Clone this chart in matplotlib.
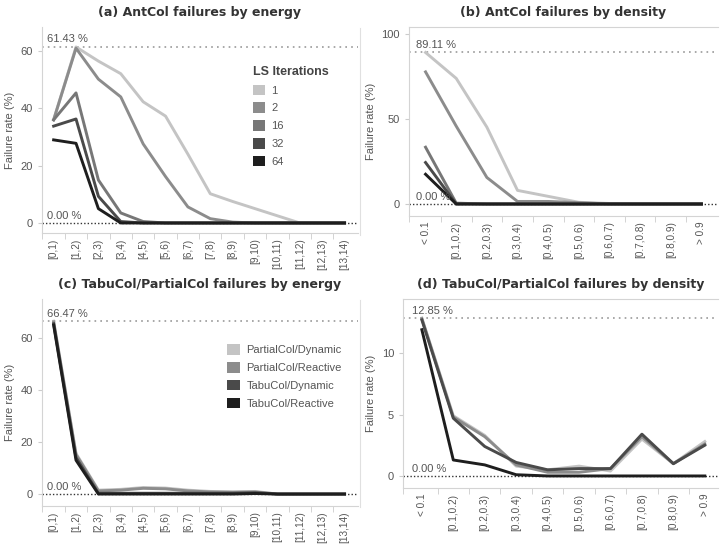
import matplotlib
matplotlib.use("Agg")
import matplotlib.pyplot as plt
from matplotlib.lines import Line2D
from matplotlib.patches import Patch

# ---- data ----
energy_bins = ["[0,1)", "[1,2)", "[2,3)", "[3,4)", "[4,5)", "[5,6)", "[6,7)",
               "[7,8)", "[8,9)", "[9,10)", "[10,11)", "[11,12)", "[12,13)", "[13,14)"]
density_bins = ["< 0.1", "[0.1,0.2)", "[0.2,0.3)", "[0.3,0.4)", "[0.4,0.5)",
                "[0.5,0.6)", "[0.6,0.7)", "[0.7,0.8)", "[0.8,0.9)", "> 0.9"]

ls_iters = ["1", "2", "16", "32", "64"]
ls_colors = ["#c4c4c4", "#8c8c8c", "#777777", "#4a4a4a", "#1e1e1e"]

ant_energy = {
    "1":  [36.0, 61.43, 56.5, 52.1, 42.3, 37.3, 24.0, 10.2, 7.5, 5.0, 2.5, 0.0, 0.0, 0.0],
    "2":  [36.0, 61.0, 50.2, 44.0, 27.6, 16.2, 5.6, 1.5, 0.3, 0.0, 0.0, 0.0, 0.0, 0.0],
    "16": [36.0, 45.4, 15.0, 3.5, 0.5, 0.0, 0.0, 0.0, 0.0, 0.0, 0.0, 0.0, 0.0, 0.0],
    "32": [33.8, 36.3, 9.3, 0.5, 0.0, 0.0, 0.0, 0.0, 0.0, 0.0, 0.0, 0.0, 0.0, 0.0],
    "64": [29.0, 27.8, 5.0, 0.0, 0.0, 0.0, 0.0, 0.0, 0.0, 0.0, 0.0, 0.0, 0.0, 0.0],
}
ant_density = {
    "1":  [89.11, 73.9, 45.2, 8.0, 4.5, 1.0, 0.3, 0.0, 0.0, 0.0],
    "2":  [77.7, 45.8, 15.6, 1.5, 1.5, 0.8, 0.0, 0.0, 0.0, 0.0],
    "16": [33.4, 0.5, 0.0, 0.0, 0.0, 0.0, 0.0, 0.0, 0.0, 0.0],
    "32": [24.4, 0.0, 0.0, 0.0, 0.0, 0.0, 0.0, 0.0, 0.0, 0.0],
    "64": [17.5, 0.0, 0.0, 0.0, 0.0, 0.0, 0.0, 0.0, 0.0, 0.0],
}

algos = ["PartialCol/Dynamic", "PartialCol/Reactive", "TabuCol/Dynamic", "TabuCol/Reactive"]
algo_colors = ["#c4c4c4", "#8c8c8c", "#4a4a4a", "#1e1e1e"]

tabu_energy = {
    "PartialCol/Dynamic":  [66.47, 15.6, 1.5, 1.8, 2.5, 2.3, 1.5, 1.0, 0.8, 1.0, 0.0, 0.0, 0.0, 0.0],
    "PartialCol/Reactive": [66.2, 15.2, 1.2, 1.5, 2.2, 2.0, 1.2, 0.8, 0.7, 0.8, 0.0, 0.0, 0.0, 0.0],
    "TabuCol/Dynamic":     [65.5, 14.0, 0.3, 0.3, 0.3, 0.3, 0.3, 0.3, 0.3, 0.5, 0.0, 0.0, 0.0, 0.0],
    "TabuCol/Reactive":    [65.0, 13.0, 0.0, 0.0, 0.0, 0.0, 0.0, 0.0, 0.0, 0.2, 0.0, 0.0, 0.0, 0.0],
}
tabu_density = {
    "PartialCol/Dynamic":  [12.85, 4.9, 3.3, 0.8, 0.5, 0.8, 0.4, 3.0, 1.0, 2.8],
    "PartialCol/Reactive": [12.8, 4.8, 3.2, 0.9, 0.3, 0.3, 0.6, 3.2, 1.0, 2.6],
    "TabuCol/Dynamic":     [12.7, 4.7, 2.4, 1.1, 0.5, 0.6, 0.6, 3.4, 1.0, 2.5],
    "TabuCol/Reactive":    [11.9, 1.3, 0.9, 0.1, 0.0, 0.0, 0.0, 0.0, 0.0, 0.0],
}

TXT = "#555555"
W, H = 720, 544
plt.rcParams["font.family"] = ["Liberation Sans", "DejaVu Sans"]


def box(l, t, r, b):
    return [l / W, 1 - b / H, (r - l) / W, (b - t) / H]


def panel(ax, cats, series, names, colors, title, ylim, yticks, xlim, maxval, top_line):
    x = list(range(len(cats)))
    for name, c in zip(names, colors):
        ax.plot(x, series[name], color=c, lw=2.1, solid_joinstyle="round", zorder=3)
    ax.axhline(maxval, color="#999999", ls=(0, (1, 2.5)), lw=1.2, zorder=1)
    ax.axhline(0, color="#333333", ls=(0, (1, 1.5)), lw=1.0, zorder=1)
    yr = ylim[1] - ylim[0]
    ax.text(-0.3, maxval + yr * 0.012, f"{maxval:.2f} %", color=TXT, fontsize=8, va="bottom", ha="left")
    ax.text(-0.3, 0 + yr * 0.012, "0.00 %", color=TXT, fontsize=8, va="bottom", ha="left")
    ax.set_xlim(*xlim)
    ax.set_ylim(*ylim)
    ax.set_xticks(x)
    ax.set_xticklabels(cats, rotation=90, fontsize=7.2, color=TXT)
    ax.set_xticks([i + 0.5 for i in x[:-1]] + [xlim[0]], minor=True)
    ax.tick_params(axis="x", which="major", length=0, pad=4)
    ax.tick_params(axis="x", which="minor", length=4, color="#cccccc")
    ax.set_yticks(yticks)
    ax.tick_params(axis="y", length=3, color="#cccccc", labelsize=8, labelcolor=TXT)
    ax.set_ylabel("Failure rate (%)", fontsize=8, color=TXT, labelpad=4)
    ax.set_title(title, fontsize=9, fontweight="bold", color="#333333",
                 family="DejaVu Sans", pad=8)
    for s in ["left", "bottom", "top", "right"]:
        ax.spines[s].set_color("#d4d4d4")
        ax.spines[s].set_linewidth(0.8)
    ax.spines["right"].set_visible(False)
    ax.spines["top"].set_visible(top_line)


fig = plt.figure(figsize=(7.2, 5.44), dpi=100)

ax_a = fig.add_axes(box(42, 27, 358, 233))
panel(ax_a, energy_bins, ant_energy, ls_iters, ls_colors,
      "(a) AntCol failures by energy", (-3.5, 68.4), [0, 20, 40, 60],
      (-0.52, 13.6), 61.43, False)
handles = [Patch(facecolor=c, edgecolor="none") for c in ls_colors]
leg = ax_a.legend(handles, ls_iters, title="LS Iterations", loc="upper left",
                  bbox_to_anchor=(0.635, 0.86), frameon=False, fontsize=8,
                  handlelength=1.1, handleheight=1.1, handletextpad=0.6,
                  labelspacing=0.6, alignment="left")
leg.get_title().set_fontweight("bold")
leg.get_title().set_fontsize(9)
leg.get_title().set_color("#444444")
for t in leg.get_texts():
    t.set_color(TXT)

ax_b = fig.add_axes(box(409, 27, 718, 216))
panel(ax_b, density_bins, ant_density, ls_iters, ls_colors,
      "(b) AntCol failures by density", (-7.06, 104.1), [0, 50, 100],
      (-0.54, 9.54), 89.11, True)

ax_c = fig.add_axes(box(42, 299, 358, 506))
panel(ax_c, energy_bins, tabu_energy, algos, algo_colors,
      "(c) TabuCol/PartialCol failures by energy", (-4.6, 75.0), [0, 20, 40, 60],
      (-0.52, 13.6), 66.47, False)
handles = [Patch(facecolor=c, edgecolor="none") for c in algo_colors]
leg = ax_c.legend(handles, algos, loc="upper left", bbox_to_anchor=(0.555, 0.83),
                  frameon=False, fontsize=8, handlelength=1.1, handleheight=1.1,
                  handletextpad=0.6, labelspacing=0.6)
for t in leg.get_texts():
    t.set_color(TXT)

ax_d = fig.add_axes(box(403, 299, 718, 488))
panel(ax_d, density_bins, tabu_density, algos, algo_colors,
      "(d) TabuCol/PartialCol failures by density", (-0.98, 14.4), [0, 5, 10],
      (-0.6, 9.42), 12.85, True)

fig.add_artist(Line2D([360 / W, 360 / W], [1 - 28 / H, 1 - 235 / H], color="#e0e0e0", lw=0.8))
fig.add_artist(Line2D([360 / W, 360 / W], [1 - 300 / H, 1 - 507 / H], color="#e0e0e0", lw=0.8))

fig.savefig("out.png", dpi=100)
